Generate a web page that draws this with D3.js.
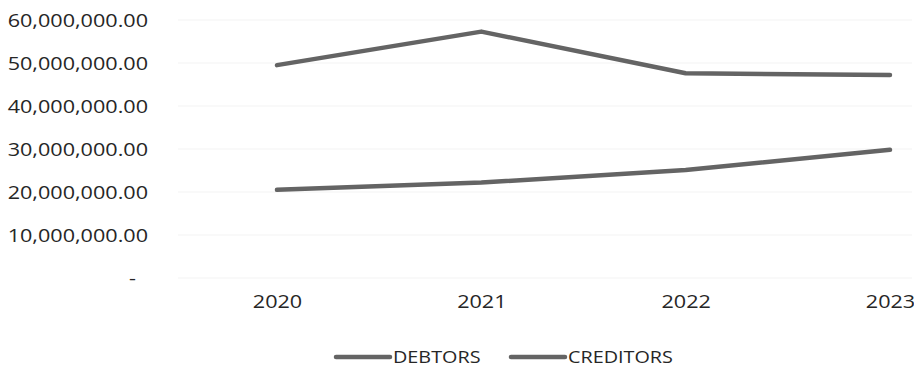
<!DOCTYPE html>
<html>
<head>
<meta charset="utf-8">
<script src="https://cdn.jsdelivr.net/npm/d3@7"></script>
<style>
  html, body { margin: 0; padding: 0; background: #fff; }
  svg { display: block; }
  text { font-family: "Open Sans", Lato, sans-serif; fill: #262626; }
</style>
</head>
<body>
<svg id="chart" width="914" height="370"></svg>
<script>
// Years on the category axis
const years = ["2020", "2021", "2022", "2023"];
// Series values
const debtors = [20500000, 22200000, 25100000, 29800000];
const creditors = [49500000, 57300000, 47600000, 47200000];
const seriesNames = ["DEBTORS", "CREDITORS"];
// Value axis ticks
const yTicks = [0, 10000000, 20000000, 30000000, 40000000, 50000000, 60000000];

const svg = d3.select("#chart");
const lineColor = "#646464";
const stretch = 1.2; // horizontal widening of label glyphs

const x = d3.scalePoint().domain(years).range([277, 890]);
const y = d3.scaleLinear().domain([0, 60000000]).range([278, 20]);

const fmt = d3.format(",.2f");

// Horizontal gridlines
svg.append("g")
  .selectAll("line")
  .data(yTicks)
  .join("line")
  .attr("x1", 178).attr("x2", 912)
  .attr("y1", d => y(d)).attr("y2", d => y(d))
  .attr("stroke", "#f3f3f3")
  .attr("stroke-width", 1);

// Value axis labels
const yAxis = d3.axisLeft(y)
  .tickValues(yTicks)
  .tickSize(0)
  .tickPadding(0)
  .tickFormat(d => d === 0 ? "-" : fmt(d));
const gy = svg.append("g").attr("transform", "translate(148,0)").call(yAxis);
gy.select(".domain").remove();
gy.selectAll("text")
  .attr("font-size", 18)
  .attr("font-family", "'Open Sans', Lato, sans-serif")
  .attr("fill", "#262626")
  .attr("dy", "0.35em")
  .attr("x", d => d === 0 ? -10 : 0)
  .attr("transform", `scale(${stretch},1)`);

// Category axis labels
const xAxis = d3.axisBottom(x).tickSize(0).tickPadding(0);
const gx = svg.append("g").attr("transform", "translate(0,295)").call(xAxis);
gx.select(".domain").remove();
gx.selectAll("text")
  .attr("font-size", 18)
  .attr("font-family", "'Open Sans', Lato, sans-serif")
  .attr("fill", "#262626")
  .attr("dy", "0.71em")
  .attr("transform", `scale(${stretch},1)`);

// Series lines
const line = d3.line()
  .x((d, i) => x(years[i]))
  .y(d => y(d));

[debtors, creditors].forEach(values => {
  svg.append("path")
    .datum(values)
    .attr("d", line)
    .attr("fill", "none")
    .attr("stroke", lineColor)
    .attr("stroke-width", 4.5)
    .attr("stroke-linejoin", "round")
    .attr("stroke-linecap", "round");
});

// Legend
const legendItems = [
  { name: seriesNames[0], x: 336 },
  { name: seriesNames[1], x: 511 }
];
legendItems.forEach(item => {
  const g = svg.append("g").attr("transform", `translate(${item.x},357)`);
  g.append("line")
    .attr("x1", 0).attr("x2", 54)
    .attr("y1", 0).attr("y2", 0)
    .attr("stroke", lineColor)
    .attr("stroke-width", 4.5)
    .attr("stroke-linecap", "round");
  g.append("text")
    .attr("x", 57 / stretch)
    .attr("y", 0)
    .attr("dy", "0.35em")
    .attr("font-size", 16.5)
    .attr("transform", `scale(${stretch},1)`)
    .text(item.name);
});
</script>
</body>
</html>
